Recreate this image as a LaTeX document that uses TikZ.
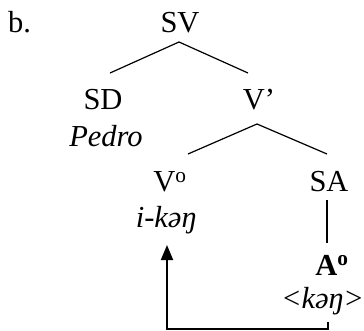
\documentclass[tikz,border=0pt]{standalone}
\usepackage{fontspec}
\setmainfont{Liberation Serif}
\usetikzlibrary{arrows.meta}
\tikzset{
  lbl/.style={anchor=base, inner sep=0pt, font=\fontsize{30.5}{36}\selectfont},
  branch/.style={line width=1.2pt},
  movearrow/.style={line width=1.9pt, -{Triangle[length=15pt,width=12pt]}}
}
\begin{document}
\begin{tikzpicture}[x=1pt,y=1pt]
\useasboundingbox (0,0) rectangle (364,-331);
\node[lbl, anchor=base west] (b) at (8,-33) {b.};
\node[lbl] (sv) at (180,-33) {SV};
\node[lbl] (sd) at (103,-110) {SD};
\node[lbl] (vbar) at (259,-110) {V’};
\node[lbl] (pedro) at (106,-147) {\itshape Pedro};
\node[lbl] (v0) at (170,-192) {V\textsuperscript{o}};
\node[lbl] (ik) at (166,-228) {\itshape i-kəŋ};
\node[lbl] (sa) at (329,-192) {SA};
\node[lbl] (a0) at (332,-275) {\bfseries A\textsuperscript{o}};
\node[lbl] (k2) at (322.5,-308) {\itshape <kəŋ>};
\draw[branch] ([shift={(-1,-9)}]sv.base) -- ([shift={(7,37)}]sd.base);
\draw[branch] ([shift={(-1,-9)}]sv.base) -- ([shift={(-11,37)}]vbar.base);
\draw[branch] ([shift={(-2,-14)}]vbar.base) -- ([shift={(18,38)}]v0.base);
\draw[branch] ([shift={(-2,-14)}]vbar.base) -- ([shift={(-2,38)}]sa.base);
\draw[branch] ([shift={(-2,-8)}]sa.base) -- ([shift={(-5,32)}]a0.base);
\draw[movearrow] ([shift={(5.5,-14)}]k2.base) -- ++(0,-7) -| ([shift={(1,-17)}]ik.base);
\end{tikzpicture}
\end{document}
